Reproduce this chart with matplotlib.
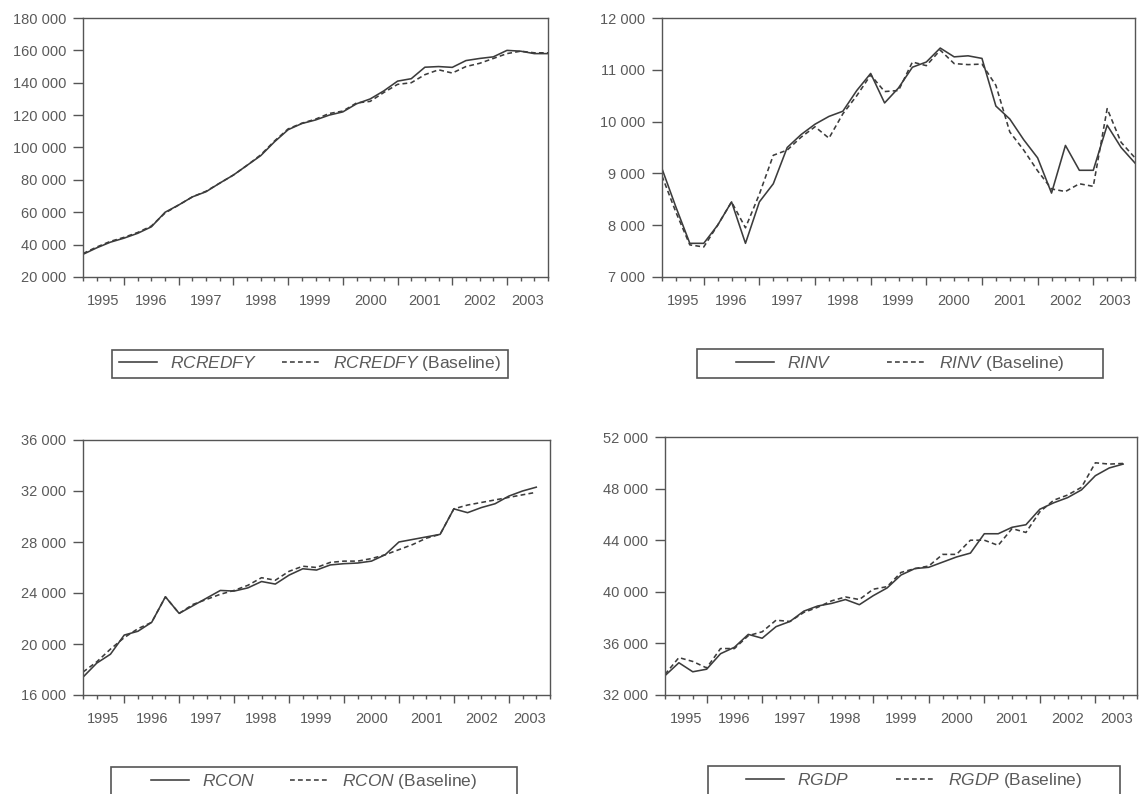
import matplotlib
matplotlib.use("Agg")
import matplotlib.pyplot as plt
from matplotlib.patches import Rectangle
from matplotlib.lines import Line2D
from matplotlib.ticker import MultipleLocator, FuncFormatter
import pandas as pd

plt.rcParams['font.family'] = ['Liberation Sans', 'DejaVu Sans']
plt.rcParams['mathtext.fontset'] = 'custom'
plt.rcParams['mathtext.it'] = 'Liberation Sans:italic'
plt.rcParams['mathtext.rm'] = 'Liberation Sans'

# quarterly sample shown on every x axis
quarters = pd.period_range('1995Q2', '2003Q4', freq='Q')

# RCREDFY (1995Q2-2003Q4)
rcredfy = [34000, 38000, 41500, 44000, 47000, 51000, 60000, 64500, 69500, 72700,
           78000, 83000, 89000, 95000, 103500, 111000, 114800, 117000, 120000, 122000,
           127000, 130000, 135000, 141000, 142500, 149600, 150000, 149500, 153700, 155000,
           156000, 160000, 159500, 158000, 158000]
rcredfy_base = [34500, 38500, 42000, 44500, 47500, 51500, 59500, 64500, 69500, 73000,
                78000, 83000, 89000, 95500, 104000, 111500, 115000, 117500, 121000, 122500,
                127500, 128500, 134000, 139000, 140000, 145000, 148000, 146000, 150000, 152000,
                155000, 158000, 159500, 158500, 158500]

# RINV (1995Q2-2003Q4)
rinv = [9090, 8350, 7650, 7650, 8000, 8450, 7650, 8450, 8800, 9500,
        9750, 9950, 10100, 10200, 10600, 10930, 10360, 10650, 11050, 11150,
        11420, 11250, 11270, 11220, 10300, 10050, 9650, 9300, 8620, 9540,
        9060, 9060, 9930, 9500, 9200]
rinv_base = [8950, 8250, 7620, 7580, 8000, 8450, 7950, 8600, 9350, 9450,
             9700, 9900, 9680, 10150, 10500, 10900, 10580, 10600, 11150, 11080,
             11380, 11120, 11100, 11110, 10700, 9800, 9450, 9050, 8700, 8650,
             8800, 8750, 10250, 9600, 9300]

# RCON (1995Q2-2003Q3)
rcon = [17400, 18500, 19200, 20700, 21000, 21700, 23700, 22400, 23000, 23600,
        24200, 24150, 24400, 24900, 24700, 25400, 25900, 25800, 26200, 26300,
        26350, 26500, 27000, 28000, 28200, 28400, 28600, 30600, 30300, 30700,
        31000, 31600, 32000, 32300]
rcon_base = [17800, 18600, 19600, 20500, 21200, 21700, 23700, 22400, 23100, 23500,
             23900, 24200, 24600, 25200, 25000, 25700, 26100, 26000, 26400, 26500,
             26500, 26700, 27000, 27400, 27800, 28300, 28600, 30600, 30900, 31100,
             31300, 31500, 31700, 31900]

# RGDP (1995Q2-2003Q3)
rgdp = [33500, 34500, 33800, 34000, 35200, 35700, 36700, 36400, 37300, 37700,
        38500, 38900, 39100, 39400, 39000, 39700, 40300, 41300, 41800, 41900,
        42300, 42700, 43000, 44500, 44500, 45000, 45200, 46400, 46900, 47300,
        47900, 49000, 49600, 49900]
rgdp_base = [33600, 34900, 34600, 34100, 35600, 35600, 36600, 36900, 37800, 37700,
             38400, 38800, 39300, 39600, 39400, 40200, 40400, 41500, 41800, 42000,
             42900, 42900, 44000, 44000, 43600, 44900, 44600, 46200, 47100, 47500,
             48100, 50000, 49900, 49950]

LINE = '#3c3c3c'
TEXT = '#5a5a5a'
FRAME = '#555555'
W, H = 1141, 794


def px_box(left, top, right, bottom):
    return [left / W, 1 - bottom / H, (right - left) / W, (bottom - top) / H]


panels = [
    # name, actual, baseline, y range, y step, axes box (px), legend box (px), column spacing
    ('RCREDFY', rcredfy, rcredfy_base, (20000, 180000), 20000, (83, 18, 548, 277), (112, 350, 508, 378), 1.4),
    ('RINV', rinv, rinv_base, (7000, 12000), 1000, (662, 18, 1135, 277), (697, 349, 1103, 378), 3.2),
    ('RCON', rcon, rcon_base, (16000, 36000), 4000, (83, 440, 550, 695), (111, 767, 517, 797), 2.0),
    ('RGDP', rgdp, rgdp_base, (32000, 52000), 4000, (665, 437, 1137, 695), (708, 766, 1120, 797), 2.7),
]

n = len(quarters)
year_starts = [i for i, q in enumerate(quarters) if q.quarter == 1]
years = sorted(set(q.year for q in quarters))
year_centers = []
for yr in years:
    idx = [i for i, q in enumerate(quarters) if q.year == yr]
    year_centers.append((idx[0] + min(idx[-1] + 1, n - 1)) / 2)

fmt = FuncFormatter(lambda v, p: f'{v:,.0f}'.replace(',', ' '))

fig = plt.figure(figsize=(W / 100, H / 100), dpi=100)

for name, actual, base, (lo, hi), step, box, lbox, colsp in panels:
    ax = fig.add_axes(px_box(*box))
    ax.plot(range(len(actual)), actual, color=LINE, lw=1.15)
    ax.plot(range(len(base)), base, color=LINE, lw=1.15, ls=(0, (3, 2)))

    ax.set_xlim(0, n - 1)
    ax.set_ylim(lo, hi)
    ax.yaxis.set_major_locator(MultipleLocator(step))
    ax.yaxis.set_major_formatter(fmt)
    ax.set_xticks(year_starts)
    ax.set_xticks(range(n), minor=True)
    ax.tick_params(axis='x', which='major', length=6, width=1, color=FRAME, labelbottom=False)
    ax.tick_params(axis='x', which='minor', length=3, width=1, color=FRAME)
    ax.tick_params(axis='y', length=7, width=1, color=FRAME, pad=5, labelsize=10.5, labelcolor=TEXT)
    for s in ax.spines.values():
        s.set_color(FRAME)
        s.set_linewidth(1)

    sec = ax.secondary_xaxis('bottom')
    sec.set_xticks(year_centers, labels=[str(y) for y in years])
    sec.tick_params(length=0, pad=12, labelsize=10.5, labelcolor=TEXT)
    sec.spines['bottom'].set_visible(False)

    # legend frame and entries below each panel
    l0, t0, r0, b0 = lbox
    fig.add_artist(Rectangle((l0 / W, 1 - b0 / H), (r0 - l0) / W, (b0 - t0) / H,
                             transform=fig.transFigure, fill=False, ec=FRAME, lw=1.2))
    handles = [Line2D([], [], color=LINE, lw=1.15),
               Line2D([], [], color=LINE, lw=1.15, ls=(0, (3, 2)))]
    labels = [rf'$\mathit{{{name}}}$', rf'$\mathit{{{name}}}$ (Baseline)']
    cy = min((t0 + b0) / 2, t0 + 14.5)
    fig.legend(handles, labels, loc='center',
               bbox_to_anchor=((l0 + r0) / 2 / W, 1 - cy / H),
               bbox_transform=fig.transFigure, ncol=2, frameon=False,
               fontsize=12.5, handlelength=2.2, handletextpad=0.75,
               columnspacing=colsp, labelcolor=TEXT, borderpad=0)

fig.savefig('out.png', dpi=100, facecolor='white')
